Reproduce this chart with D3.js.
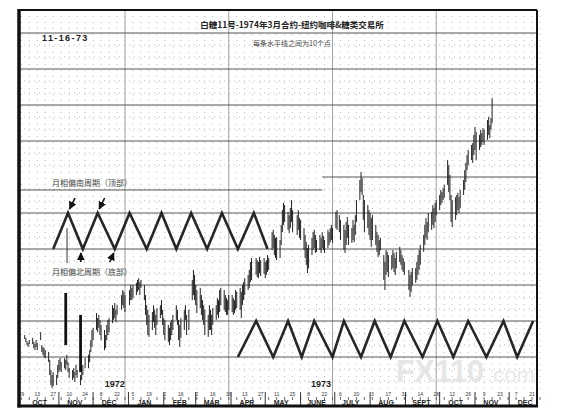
<!DOCTYPE html>
<html><head><meta charset="utf-8">
<script src="https://cdn.jsdelivr.net/npm/d3@7"></script>
<style>body{margin:0;background:#fff}svg{display:block}</style>
</head><body><svg id="c" width="568" height="417"></svg>
<script>
// ---------- data ----------
const title = "白糖11号-1974年3月合约-纽约咖啡&糖类交易所";
const subtitle = "每条水平线之间为10个点";
const chartDate = "11-16-73";
const topCycleLabel = "月相偏南周期（顶部）";
const bottomCycleLabel = "月相偏北周期（底部）";
const monthNames = ["OCT","NOV","DEC","JAN","FEB","MAR","APR","MAY","JUNE","JULY","AUG","SEPT","OCT","NOV","DEC"];
const monthStarts = ["1972-10-01","1972-11-01","1972-12-01","1973-01-01","1973-02-01","1973-03-01","1973-04-01","1973-05-01","1973-06-01","1973-07-01","1973-08-01","1973-09-01","1973-10-01","1973-11-01","1973-12-01"];
const yearLabels = ["1972","1973"];
const yearLabelDates = ["1972-12-20","1973-06-19"];
const gridValues = [10,20,30,40,50,60,70,80,90,100];
const quarterLines = ["1972-12-29","1973-03-30","1973-06-29","1973-09-28"];
const firstDay = "1972-10-02"; // Monday of first week; 5 trading slots per week (null = holiday)
// daily highs / lows (points; one horizontal line = 10 points)
const highs = [
16.1,15.3,14.4,13.9,14.7, 15.3,14.2,13.6,14.7,13.9, 16.9,13.3,12.8,12.5,11.9, 11.4,9.2,6.4,5.0,5.8,
5.0,7.8,9.2,9.7,8.6, 9.7,9.2,10.6,8.6,6.9, 6.4,6.9,5.8,7.8,6.4, 5.0,5.8,7.8,null,9.7,
10.6,11.9,14.7,17.5,18.1, 22.2,20.8,21.7,20.3,18.9, 17.5,16.1,18.9,20.3,20.8, 24.4,23.6,25.0,23.1,24.4,
null,27.2,28.6,28.1,27.2, null,28.6,30.0,29.2,30.0, 30.6,31.4,31.9,30.8,31.4, 30.0,27.2,24.4,23.1,21.7,
22.5,24.4,23.1,21.7,23.6, 24.4,25.8,23.1,20.8,20.3, 18.9,18.1,19.7,20.3,21.7, 24.4,23.1,20.3,18.9,20.8,
23.1,24.4,21.7,null,23.1, 31.4,34.2,32.8,30.0,28.6, 29.2,27.2,25.8,24.4,23.1, 21.7,24.4,23.1,21.7,23.6,
24.4,26.4,25.8,28.6,29.2, 28.6,27.2,26.4,25.8,27.2, 27.2,26.4,25.8,28.6,28.1, 29.2,28.1,30.0,30.8,31.9,
32.8,34.2,36.4,37.5,null, 37.5,36.9,36.4,37.8,36.9, 37.5,36.4,36.9,38.3,37.5, 44.7,45.3,43.9,43.1,43.3,
42.5,46.7,50.8,52.8,52.2, 50.3,49.4,51.4,53.6,50.8, null,49.4,50.8,48.6,48.1, 45.8,43.9,41.9,40.3,41.1,
43.1,44.7,45.3,43.9,42.5, 43.9,43.1,44.7,43.6,42.5, 45.3,44.7,45.8,46.7,45.8, 50.3,50.8,null,49.4,48.1,
46.7,45.3,47.5,48.9,46.7, 45.8,48.1,46.7,49.4,53.6, 59.2,61.4,59.7,55.0,53.6, 52.2,50.8,50.0,48.6,49.4,
46.7,44.7,43.9,42.5,43.1, 38.3,36.4,39.7,39.2,38.3, 38.3,39.7,38.9,37.5,39.2, 40.6,39.7,38.3,37.5,36.4,
null,34.2,32.8,33.6,34.7, 34.7,36.4,38.3,39.7,41.1, 43.9,46.7,48.6,47.5,50.0, 50.3,52.2,51.4,52.8,53.6,
55.0,56.4,55.8,56.9,57.8, 64.7,63.3,60.6,55.0,53.6, 54.4,55.0,55.6,54.4,56.4, 59.2,61.9,63.9,66.1,67.5,
68.9,69.4,71.7,73.9,72.5, 71.7,73.1,72.2,73.6,73.1, 75.8,76.7,74.4,76.4,81.9
];
const lows = [
15.0,14.2,13.3,12.8,13.6, 13.6,12.5,11.9,12.8,11.9, 14.7,11.4,10.6,10.0,9.7, 8.6,5.0,2.2,1.4,1.9,
2.2,4.2,5.8,6.4,5.8, 6.9,6.4,7.8,5.8,4.2, 3.6,4.2,3.1,5.0,4.2, 2.2,3.6,5.0,null,6.9,
6.9,8.6,11.4,12.8,14.7, 17.5,16.9,18.1,16.1,14.7, 11.9,12.5,14.7,16.1,16.9, 19.4,20.3,20.8,19.7,21.7,
null,23.1,24.4,23.6,22.5, null,24.4,25.8,25.8,26.4, 27.2,28.1,28.6,27.2,29.2, 25.8,21.7,18.9,16.1,15.6,
17.5,19.7,18.1,16.1,18.9, 20.8,21.7,18.9,16.1,14.7, 14.2,13.3,14.7,16.1,17.5, 20.3,18.9,14.7,12.8,15.3,
17.5,20.3,16.1,null,17.5, 25.8,27.2,25.8,24.4,22.2, 23.6,21.7,20.3,18.9,16.1, 15.6,17.5,17.5,16.1,18.9,
20.3,21.7,20.8,22.5,24.4, 23.1,22.5,21.7,21.7,23.1, 22.5,21.7,22.2,23.1,23.6, 23.1,20.8,24.4,25.8,27.2,
28.6,29.2,30.8,31.4,null, 32.8,32.2,31.9,33.3,32.5, 33.1,31.9,32.8,33.6,34.2, 39.7,40.3,38.3,37.5,36.9,
37.5,41.1,44.7,46.7,47.5, 45.3,44.4,45.8,47.5,44.7, null,43.9,45.3,43.1,42.5, 39.7,37.5,35.6,33.3,34.7,
38.3,39.7,40.3,38.9,39.2, 39.7,38.9,40.3,39.7,38.9, 40.3,41.1,41.9,42.5,41.7, 45.8,45.3,null,44.7,42.5,
39.7,38.9,41.1,43.1,41.1, 41.7,42.5,41.9,43.9,47.5, 53.6,55.8,55.0,48.1,44.7, 45.8,43.9,42.5,40.6,42.5,
41.1,39.2,37.8,38.3,39.7, 31.4,28.6,32.8,33.6,32.2, 34.2,34.7,33.6,32.8,34.7, 36.4,35.6,34.2,33.6,32.8,
null,28.6,26.7,28.1,30.0, 30.6,31.4,32.8,34.2,35.6, 39.2,41.1,43.1,42.5,44.7, 45.3,46.7,45.8,47.5,49.4,
50.8,52.2,52.8,53.6,54.2, 57.8,55.8,53.6,47.5,46.1, 48.1,49.4,50.8,50.0,51.4, 55.0,56.4,58.6,61.9,63.3,
64.7,63.9,66.1,67.5,64.7, 67.5,68.3,68.9,69.7,68.9, 70.3,71.7,70.8,73.1,75.0
];
// lunar cycle zigzags (first vertex is a trough)
const topCycleDates = ["1972-10-27","1972-11-09","1972-11-22","1972-12-05","1972-12-20","1973-01-02","1973-01-17","1973-01-30","1973-02-12","1973-02-25","1973-03-11","1973-03-24","1973-04-07","1973-04-21","1973-05-03"];
const topCycleLevels = [40,50];
const bottomCycleDates = ["1973-04-07","1973-04-23","1973-05-08","1973-05-21","1973-06-02","1973-06-13","1973-06-29","1973-07-09","1973-07-24","1973-08-05","1973-08-19","1973-08-31","1973-09-16","1973-09-29","1973-10-13","1973-10-26","1973-11-11","1973-11-26","1973-12-08","1973-12-22"];
const bottomCycleLevels = [10,20];
const markerBars = [["1972-11-07",27.8,13.3],["1972-11-20",21.7,5.8]];
const peakArrows = ["1972-11-09","1972-12-05"];
const troughArrows = ["1972-11-22","1972-12-20"];

// ---------- drawing ----------
const svg = d3.select("#c");
const P = d3.timeParse("%Y-%m-%d");
const x = d3.scaleTime().domain([P("1973-01-05"), P("1973-12-21")]).range([133, 532]);
const y = d3.scaleLinear().domain([0, 100]).range([393, 33]);
const F = {l:19, t:10, r:537, b:406};
const sans = "'Liberation Sans', Arial, sans-serif";
const cjk = "'Noto Sans CJK SC', sans-serif";

svg.append("rect").attr("width",568).attr("height",417).attr("fill","#fff");

// minor dotted grid
const g = svg.append("g");
const fridays = d3.timeFriday.range(P("1972-09-29"), P("1973-12-29"));
g.selectAll(".vd").data(fridays).join("line")
  .attr("x1",d=>x(d)).attr("x2",d=>x(d)).attr("y1",F.t).attr("y2",390)
  .attr("stroke","#aaa").attr("stroke-width",0.8).attr("stroke-dasharray","1,5");
const minor = d3.range(0,100,10).flatMap(v=>[v+10/3, v+20/3]);
g.selectAll(".hd").data(minor).join("line")
  .attr("x1",F.l).attr("x2",F.r).attr("y1",d=>y(d)).attr("y2",d=>y(d))
  .attr("stroke","#aaa").attr("stroke-width",0.8).attr("stroke-dasharray","1,4");
// quarter verticals
g.selectAll(".vq").data(quarterLines).join("line")
  .attr("x1",d=>x(P(d))).attr("x2",d=>x(P(d))).attr("y1",F.t).attr("y2",F.b)
  .attr("stroke","#999").attr("stroke-width",0.9);
// main horizontal grid
const splitDate = P("1973-06-20");
g.selectAll(".hg").data(gridValues).join("line")
  .attr("x1",d=>d===60?x(splitDate):F.l).attr("x2",F.r)
  .attr("y1",d=>y(d)).attr("y2",d=>y(d))
  .attr("stroke","#555").attr("stroke-width",1);
g.append("line").attr("x1",F.l).attr("x2",x(splitDate)).attr("y1",y(56.4)).attr("y2",y(56.4))
  .attr("stroke","#555").attr("stroke-width",1);

// watermark
svg.append("text").attr("x",396).attr("y",382).attr("textLength",88).attr("lengthAdjust","spacingAndGlyphs")
  .attr("font-family",sans).attr("font-weight","bold").attr("font-size",32).attr("fill","#e6e6e6").text("FX110");
svg.append("text").attr("x",487).attr("y",382).attr("textLength",48).attr("lengthAdjust","spacingAndGlyphs")
  .attr("font-family",sans).attr("font-size",20).attr("fill","#eaeaea").text(".com");

// price bars
const d0 = P(firstDay);
const bars = highs.map((h,i)=>({d:d3.timeDay.offset(d0, Math.floor(i/5)*7 + i%5), h, l:lows[i]})).filter(b=>b.h!=null);
svg.append("g").selectAll("line").data(bars).join("line")
  .attr("x1",d=>x(d.d)).attr("x2",d=>x(d.d))
  .attr("y1",d=>y(d.h)).attr("y2",d=>Math.max(y(d.l), y(d.h)+1.5))
  .attr("stroke","#222").attr("stroke-width",1);

// marker bars
svg.append("g").selectAll("line").data(markerBars).join("line")
  .attr("x1",d=>x(P(d[0]))).attr("x2",d=>x(P(d[0])))
  .attr("y1",d=>y(d[1])).attr("y2",d=>y(d[2]))
  .attr("stroke","#111").attr("stroke-width",2.8);

// zigzags
const zz = (dates, lv) => dates.map((d,i)=>({d:P(d), v:lv[i%2]}));
const line = d3.line().x(d=>x(d.d)).y(d=>y(d.v));
[[topCycleDates,topCycleLevels],[bottomCycleDates,bottomCycleLevels]].forEach(([ds,lv])=>{
  svg.append("path").attr("d",line(zz(ds,lv))).attr("fill","none")
    .attr("stroke","#262626").attr("stroke-width",2.6).attr("stroke-linejoin","miter");
});

// annotation arrows
svg.append("defs").append("marker").attr("id","ah").attr("viewBox","0 0 10 10")
  .attr("refX",9).attr("refY",5).attr("markerWidth",5).attr("markerHeight",5).attr("orient","auto")
  .append("path").attr("d","M0,0L10,5L0,10z").attr("fill","#111");
const ann = svg.append("g").attr("stroke","#111").attr("stroke-width",1.6).attr("fill","none");
peakArrows.forEach(d=>{
  const px = x(P(d)), py = y(topCycleLevels[1]);
  ann.append("line").attr("x1",px+7).attr("y1",py-15).attr("x2",px+1.5).attr("y2",py-4).attr("marker-end","url(#ah)");
});
troughArrows.forEach((d,i)=>{
  const px = x(P(d)), py = y(topCycleLevels[0]);
  const dx = i===0 ? -2 : -5;
  ann.append("line").attr("x1",px+dx).attr("y1",py+13).attr("x2",px+(i===0?-2:-1)).attr("y2",py+4).attr("marker-end","url(#ah)");
});
// thin pointer line from first peak
svg.append("line").attr("x1",x(P(topCycleDates[1]))-1).attr("x2",x(P(topCycleDates[1]))-1)
  .attr("y1",y(45.8)).attr("y2",y(36.1)).attr("stroke","#333").attr("stroke-width",1);

// texts
svg.append("text").attr("x",292).attr("y",28).attr("text-anchor","middle")
  .attr("font-family",cjk).attr("font-size",8.5).attr("font-weight","bold").attr("fill","#222").text(title);
svg.append("text").attr("x",292).attr("y",46).attr("text-anchor","middle")
  .attr("font-family",cjk).attr("font-size",7).attr("fill","#444").text(subtitle);
svg.append("text").attr("x",42).attr("y",41).attr("letter-spacing",1.4)
  .attr("font-family",sans).attr("font-size",9).attr("font-weight","bold").attr("fill","#222").text(chartDate);
svg.append("text").attr("x",52).attr("y",186)
  .attr("font-family",cjk).attr("font-size",8).attr("fill","#444").text(topCycleLabel);
svg.append("text").attr("x",52).attr("y",275)
  .attr("font-family",cjk).attr("font-size",8).attr("fill","#444").text(bottomCycleLabel);
svg.selectAll(".yr").data(yearLabels).join("text")
  .attr("x",(d,i)=>x(P(yearLabelDates[i]))).attr("y",387).attr("text-anchor","middle")
  .attr("font-family","'Liberation Sans Narrow', "+sans).attr("font-weight","bold").attr("font-size",9)
  .attr("fill","#222").text(d=>d);

// bottom axis: biweekly day labels, weekly ticks, month separators and names
const biw = d3.timeFriday.range(P("1972-09-29"), P("1973-12-29"), 2);
svg.selectAll(".dl").data(biw).join("text")
  .attr("x",d=>x(d)).attr("y",396).attr("text-anchor","middle")
  .attr("font-family",sans).attr("font-size",5).attr("fill","#333").text(d3.timeFormat("%-d"));
svg.selectAll(".wt").data(fridays).join("line")
  .attr("x1",d=>x(d)).attr("x2",d=>x(d)).attr("y1",397).attr("y2",400)
  .attr("stroke","#444").attr("stroke-width",0.8);
svg.selectAll(".ms").data(monthStarts.slice(1)).join("line")
  .attr("x1",d=>x(P(d))).attr("x2",d=>x(P(d))).attr("y1",392).attr("y2",F.b)
  .attr("stroke","#333").attr("stroke-width",1);
svg.selectAll(".mn").data(monthNames).join("text")
  .attr("x",(d,i)=>x(d3.timeDay.offset(P(monthStarts[i]),14))).attr("y",404.5).attr("text-anchor","middle")
  .attr("font-family",sans).attr("font-weight","bold").attr("font-size",7).attr("fill","#222").text(d=>d);

// frame
const fr = svg.append("g").attr("stroke","#111").attr("fill","none");
fr.append("line").attr("x1",F.l).attr("x2",F.r).attr("y1",F.t).attr("y2",F.t).attr("stroke-width",2);
fr.append("line").attr("x1",F.r).attr("x2",F.r).attr("y1",F.t).attr("y2",F.b).attr("stroke-width",2);
fr.append("line").attr("x1",F.l).attr("x2",F.l).attr("y1",F.t-1).attr("y2",F.b+1.5).attr("stroke-width",3.5);
fr.append("line").attr("x1",F.l-1.5).attr("x2",F.r+1).attr("y1",F.b).attr("y2",F.b).attr("stroke-width",3);
</script></body></html>
